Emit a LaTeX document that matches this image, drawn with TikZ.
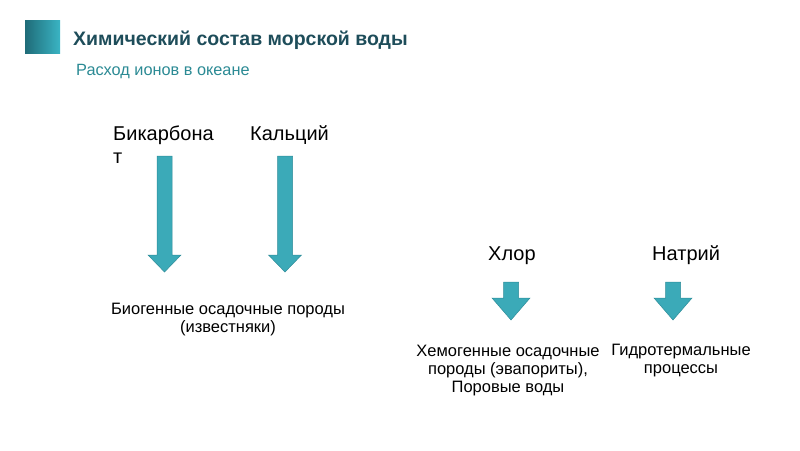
\documentclass[tikz,border=0pt]{standalone}
\usepackage{fontspec}
\setmainfont{Liberation Sans}
\usepackage{xcolor}
\usetikzlibrary{positioning}

\definecolor{headteal}{HTML}{1E4D5A}
\definecolor{subteal}{HTML}{2B8A94}
\definecolor{arrowfill}{HTML}{3BAAB8}
\definecolor{arrowedge}{HTML}{2E8C99}
\definecolor{squaredark}{HTML}{1F6C78}
\definecolor{squarelight}{HTML}{3AB4C4}

% block arrow pointing down: x, top, tip, head half width, head length
\newcommand{\ionflow}[5]{%
  \draw[flow] (#1-7.5,#2) -- (#1+7.5,#2) -- (#1+7.5,#3-#5) -- (#1+#4,#3-#5)
    -- (#1,#3) -- (#1-#4,#3-#5) -- (#1-7.5,#3-#5) -- cycle;}

\begin{document}
\begin{tikzpicture}[x=1pt, y=-1pt,
    ion/.style={font=\fontsize{20}{23}\selectfont, inner sep=0pt,
                anchor=base west, align=left},
    sink/.style={font=\fontsize{16.5}{18}\selectfont, inner sep=0pt,
                 anchor=base, align=center},
    flow/.style={draw=arrowedge, fill=arrowfill, line width=0.5pt}
  ]
  \useasboundingbox (0,0) rectangle (800,450);

  % header
  \shade[left color=squaredark, right color=squarelight] (25,20) rectangle (60,53);
  \node[font=\fontsize{19.5}{23}\selectfont\bfseries, text=headteal, inner sep=0pt,
        anchor=base west] (title) at (73,45) {Химический состав морской воды};
  \node[font=\fontsize{16.3}{19}\selectfont, text=subteal, inner sep=0pt,
        anchor=base west] (subtitle) at (76,75) {Расход ионов в океане};

  % ions (base = last line)
  \node[ion] (bic) at (113,163) {Бикарбона\\т};
  \node[ion] (ca)  at (250,140) {Кальций};
  \node[ion] (cl)  at (488,260) {Хлор};
  \node[ion] (na)  at (652,260) {Натрий};

  % arrows
  \ionflow{164.5}{156}{272}{16.5}{17}
  \ionflow{285}{156}{272}{16.5}{17}
  \ionflow{511}{282}{320}{19}{22}
  \ionflow{673}{282}{320}{19}{22}

  % sinks (base = last line)
  \node[sink] (bio)   at (228,332) {Биогенные осадочные породы\\(известняки)};
  \node[sink] (chem)  at (508,392) {Хемогенные осадочные\\породы (эвапориты),\\Поровые воды};
  \node[sink] (hydro) at (681,373) {Гидротермальные\\процессы};
\end{tikzpicture}
\end{document}
